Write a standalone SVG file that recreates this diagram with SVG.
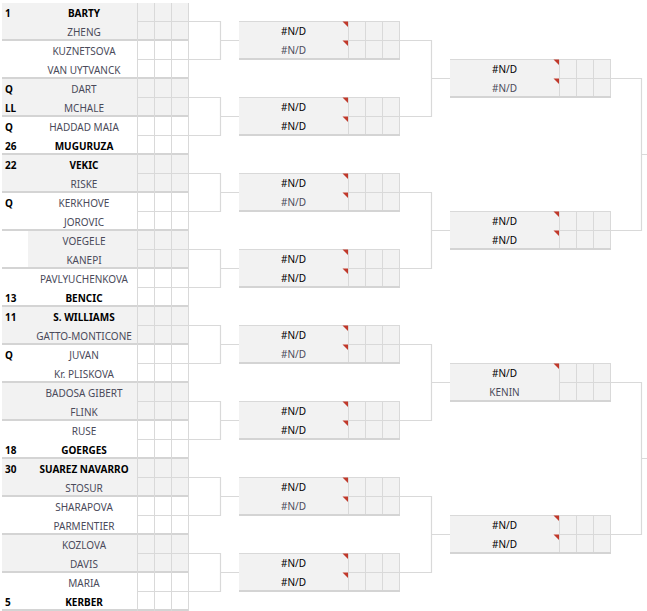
<svg xmlns="http://www.w3.org/2000/svg" width="647" height="611" viewBox="0 0 647 611">
<style>
text{font-family:"Noto Sans","Open Sans","Liberation Sans",sans-serif;font-size:10px}
.n{text-anchor:middle;fill:#4a4a5a}
.b{text-anchor:middle;fill:#000;font-weight:bold}
.k{text-anchor:middle;fill:#000}
.s{text-anchor:start;fill:#000;font-weight:bold}
.bg{fill:#f2f2f2}
.ln{stroke:#d9d9d9;stroke-width:1;fill:none}
.tk{fill:#d4d4d4}
.tri{fill:#c0392b}
.conn{stroke:#d9d9d9;stroke-width:1.2;fill:none}
</style>
<defs>
<rect id="bg1" class="bg" x="2" y="0" width="187" height="36"/>
<g id="sc1">
<rect class="tk" x="2" y="36" width="187" height="2"/>
<path class="ln" d="M137.5 0V38M154.5 0V38M171.5 0V38M188.5 0V38M137 18.5H189"/>
</g>
<g id="box">
<rect class="bg" x="0" y="0" width="161" height="37"/>
<rect class="tk" x="0" y="37" width="161" height="2"/>
<path class="ln" d="M0 0.5H161M109.5 0V37M126.5 0V37M143.5 0V37M160.5 0V37M109 19.5H161"/>
</g>
<path id="tri" class="tri" d="M103.5 0.5H109V6Z"/>
</defs>

<g id="connectors">
<path class="conn" d="M189 21.5H220.5V59.5H189M220.5 40.5H239"/>
<path class="conn" d="M189 97.5H220.5V135.5H189M220.5 116.5H239"/>
<path class="conn" d="M189 173.5H220.5V211.5H189M220.5 192.5H239"/>
<path class="conn" d="M189 249.5H220.5V287.5H189M220.5 268.5H239"/>
<path class="conn" d="M189 325.5H220.5V363.5H189M220.5 344.5H239"/>
<path class="conn" d="M189 401.5H220.5V439.5H189M220.5 420.5H239"/>
<path class="conn" d="M189 477.5H220.5V515.5H189M220.5 496.5H239"/>
<path class="conn" d="M189 553.5H220.5V591.5H189M220.5 572.5H239"/>
<path class="conn" d="M399.5 40.5H431.5V116.5H399.5M431.5 78.5H450"/>
<path class="conn" d="M399.5 192.5H431.5V268.5H399.5M431.5 230.5H450"/>
<path class="conn" d="M399.5 344.5H431.5V420.5H399.5M431.5 382.5H450"/>
<path class="conn" d="M399.5 496.5H431.5V572.5H399.5M431.5 534.5H450"/>
<path class="conn" d="M610.5 78.5H641.5V230.5H610.5M641.5 154.5H647"/>
<path class="conn" d="M610.5 382.5H641.5V534.5H610.5M641.5 458.5H647"/>
</g>

<g id="r1-m1"><use href="#bg1" y="3"/><use href="#sc1" y="3"/>
<text class="s" x="5" y="17">1</text><text class="b" x="84" y="17">BARTY</text><text class="n" x="84" y="36">ZHENG</text></g>
<g id="r1-m2"><use href="#sc1" y="41"/>
<text class="n" x="84" y="55">KUZNETSOVA</text><text class="n" x="84" y="74">VAN UYTVANCK</text></g>
<g id="r1-m3"><use href="#bg1" y="79"/><use href="#sc1" y="79"/>
<text class="s" x="5" y="93">Q</text><text class="n" x="84" y="93">DART</text><text class="s" x="5" y="112">LL</text><text class="n" x="84" y="112">MCHALE</text></g>
<g id="r1-m4"><use href="#sc1" y="117"/>
<text class="s" x="5" y="131">Q</text><text class="n" x="84" y="131">HADDAD MAIA</text><text class="s" x="5" y="150">26</text><text class="b" x="84" y="150">MUGURUZA</text></g>
<g id="r1-m5"><use href="#bg1" y="155"/><use href="#sc1" y="155"/>
<text class="s" x="5" y="169">22</text><text class="b" x="84" y="169">VEKIC</text><text class="n" x="84" y="188">RISKE</text></g>
<g id="r1-m6"><use href="#sc1" y="193"/>
<text class="s" x="5" y="207">Q</text><text class="n" x="84" y="207">KERKHOVE</text><text class="n" x="84" y="226">JOROVIC</text></g>
<g id="r1-m7"><rect class="bg" x="28" y="231" width="161" height="36"/><use href="#sc1" y="231"/>
<text class="n" x="84" y="245">VOEGELE</text><text class="n" x="84" y="264">KANEPI</text></g>
<g id="r1-m8"><use href="#sc1" y="269"/>
<text class="n" x="84" y="283">PAVLYUCHENKOVA</text><text class="s" x="5" y="302">13</text><text class="b" x="84" y="302">BENCIC</text></g>
<g id="r1-m9"><use href="#bg1" y="307"/><use href="#sc1" y="307"/>
<text class="s" x="5" y="321">11</text><text class="b" x="84" y="321">S. WILLIAMS</text><text class="n" x="84" y="340">GATTO-MONTICONE</text></g>
<g id="r1-m10"><use href="#sc1" y="345"/>
<text class="s" x="5" y="359">Q</text><text class="n" x="84" y="359">JUVAN</text><text class="n" x="84" y="378">Kr. PLISKOVA</text></g>
<g id="r1-m11"><use href="#bg1" y="383"/><use href="#sc1" y="383"/>
<text class="n" x="84" y="397">BADOSA GIBERT</text><text class="n" x="84" y="416">FLINK</text></g>
<g id="r1-m12"><use href="#sc1" y="421"/>
<text class="n" x="84" y="435">RUSE</text><text class="s" x="5" y="454">18</text><text class="b" x="84" y="454">GOERGES</text></g>
<g id="r1-m13"><use href="#bg1" y="459"/><use href="#sc1" y="459"/>
<text class="s" x="5" y="473">30</text><text class="b" x="84" y="473">SUAREZ NAVARRO</text><text class="n" x="84" y="492">STOSUR</text></g>
<g id="r1-m14"><use href="#sc1" y="497"/>
<text class="n" x="84" y="511">SHARAPOVA</text><text class="n" x="84" y="530">PARMENTIER</text></g>
<g id="r1-m15"><use href="#bg1" y="535"/><use href="#sc1" y="535"/>
<text class="n" x="84" y="549">KOZLOVA</text><text class="n" x="84" y="568">DAVIS</text></g>
<g id="r1-m16"><use href="#sc1" y="573"/>
<text class="n" x="84" y="587">MARIA</text><text class="s" x="5" y="606">5</text><text class="b" x="84" y="606">KERBER</text></g>

<g id="r2-m1"><use href="#box" x="239" y="21"/><use href="#tri" x="239" y="21"/><use href="#tri" x="239" y="40"/>
<text class="k" x="293.5" y="35">#N/D</text><text class="n" x="293.5" y="54">#N/D</text></g>
<g id="r2-m2"><use href="#box" x="239" y="97"/><use href="#tri" x="239" y="97"/><use href="#tri" x="239" y="116"/>
<text class="k" x="293.5" y="111">#N/D</text><text class="k" x="293.5" y="130">#N/D</text></g>
<g id="r2-m3"><use href="#box" x="239" y="173"/><use href="#tri" x="239" y="173"/><use href="#tri" x="239" y="192"/>
<text class="k" x="293.5" y="187">#N/D</text><text class="n" x="293.5" y="206">#N/D</text></g>
<g id="r2-m4"><use href="#box" x="239" y="249"/><use href="#tri" x="239" y="249"/><use href="#tri" x="239" y="268"/>
<text class="k" x="293.5" y="263">#N/D</text><text class="k" x="293.5" y="282">#N/D</text></g>
<g id="r2-m5"><use href="#box" x="239" y="325"/><use href="#tri" x="239" y="325"/><use href="#tri" x="239" y="344"/>
<text class="k" x="293.5" y="339">#N/D</text><text class="n" x="293.5" y="358">#N/D</text></g>
<g id="r2-m6"><use href="#box" x="239" y="401"/><use href="#tri" x="239" y="401"/><use href="#tri" x="239" y="420"/>
<text class="k" x="293.5" y="415">#N/D</text><text class="k" x="293.5" y="434">#N/D</text></g>
<g id="r2-m7"><use href="#box" x="239" y="477"/><use href="#tri" x="239" y="477"/><use href="#tri" x="239" y="496"/>
<text class="k" x="293.5" y="491">#N/D</text><text class="n" x="293.5" y="510">#N/D</text></g>
<g id="r2-m8"><use href="#box" x="239" y="553"/><use href="#tri" x="239" y="553"/><use href="#tri" x="239" y="572"/>
<text class="k" x="293.5" y="567">#N/D</text><text class="k" x="293.5" y="586">#N/D</text></g>

<g id="r3-m1"><use href="#box" x="450" y="59"/><use href="#tri" x="450" y="59"/><use href="#tri" x="450" y="78"/>
<text class="k" x="504.5" y="73">#N/D</text><text class="n" x="504.5" y="92">#N/D</text></g>
<g id="r3-m2"><use href="#box" x="450" y="211"/><use href="#tri" x="450" y="211"/><use href="#tri" x="450" y="230"/>
<text class="k" x="504.5" y="225">#N/D</text><text class="k" x="504.5" y="244">#N/D</text></g>
<g id="r3-m3"><use href="#box" x="450" y="363"/><use href="#tri" x="450" y="363"/>
<text class="k" x="504.5" y="377">#N/D</text><text class="n" x="504.5" y="396">KENIN</text></g>
<g id="r3-m4"><use href="#box" x="450" y="515"/><use href="#tri" x="450" y="515"/><use href="#tri" x="450" y="534"/>
<text class="k" x="504.5" y="529">#N/D</text><text class="k" x="504.5" y="548">#N/D</text></g>
</svg>
